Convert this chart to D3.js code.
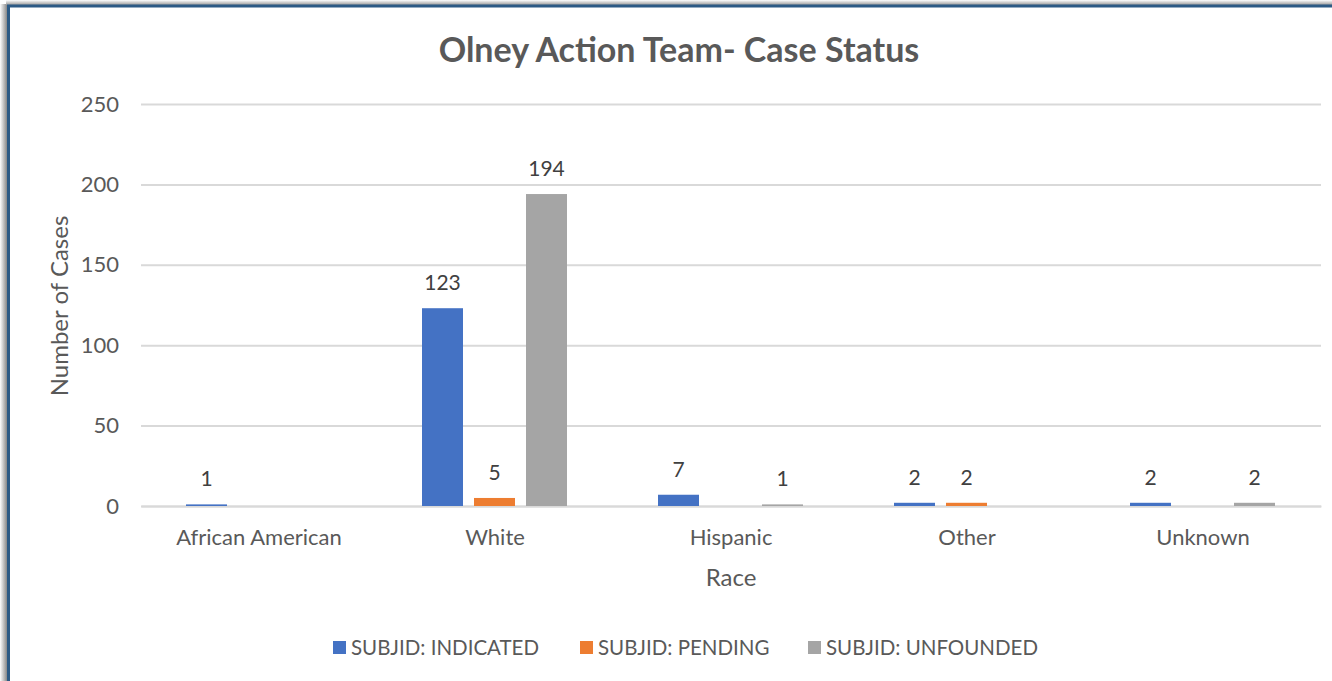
<!DOCTYPE html>
<html>
<head>
<meta charset="utf-8">
<script src="https://cdn.jsdelivr.net/npm/d3@7"></script>
<style>
  body { margin: 0; background: #fff; }
  svg { display: block; }
</style>
</head>
<body>
<svg></svg>
<script>
const categories = ["African American", "White", "Hispanic", "Other", "Unknown"];
const seriesNames = ["SUBJID: INDICATED", "SUBJID: PENDING", "SUBJID: UNFOUNDED"];
const indicated = [1, 123, 7, 2, 2];
const pending = [null, 5, null, 2, null];
const unfounded = [null, 194, 1, null, 2];
const yTicks = [0, 50, 100, 150, 200, 250];
const colors = ["#4472c4", "#ed7d31", "#a5a5a5"];

const width = 1332;
const height = 681;
const font = "Lato, 'Open Sans', sans-serif";

const svg = d3.select('svg')
    .attr("width", width)
    .attr("height", height);

// frame with shadow
const defs = svg.append("defs");
const shL = defs.append("linearGradient").attr("id", "shL").attr("x1", "0").attr("x2", "1");
shL.append("stop").attr("offset", "0").attr("stop-color", "#fff");
shL.append("stop").attr("offset", "1").attr("stop-color", "#777");
const shT = defs.append("linearGradient").attr("id", "shT").attr("x1", "0").attr("x2", "0").attr("y1", "0").attr("y2", "1");
shT.append("stop").attr("offset", "0").attr("stop-color", "#fff");
shT.append("stop").attr("offset", "1").attr("stop-color", "#999");

svg.append("rect").attr("x", 0).attr("y", 4).attr("width", 8).attr("height", height)
   .attr("fill", "url(#shL)");
svg.append("rect").attr("x", 6).attr("y", 0).attr("width", width).attr("height", 5)
   .attr("fill", "url(#shT)");
svg.append("rect").attr("x", 8.5).attr("y", 6).attr("width", width + 20).attr("height", height + 20)
   .attr("fill", "#fff").attr("stroke", "#2c5a85").attr("stroke-width", 3);

const plotLeft = 141, plotRight = 1321, plotTop = 104, plotBottom = 506;

const xScale = d3.scaleBand()
    .domain(categories)
    .range([plotLeft, plotRight]);

const xInner = d3.scaleBand()
    .domain(d3.range(seriesNames.length))
    .range([45, 190])
    .paddingInner(0.2115)
    .paddingOuter(0);

const yScale = d3.scaleLinear()
    .domain([0, 250])
    .range([plotBottom, plotTop]);

// gridlines + y labels
const yAxis = d3.axisLeft(yScale)
    .tickValues(yTicks)
    .tickSize(-(plotRight - plotLeft))
    .tickPadding(22);

const gy = svg.append('g')
    .attr("transform", "translate(" + plotLeft + ",0)")
    .call(yAxis);
gy.select(".domain").remove();
gy.selectAll(".tick line").attr("stroke", "#d9d9d9").attr("stroke-width", 2);
gy.selectAll(".tick text")
  .attr("fill", "#595959")
  .style("font-family", font)
  .style("font-size", "22px");

// x axis labels
const xAxis = d3.axisBottom(xScale).tickSize(0).tickPadding(23);
const gx = svg.append('g')
    .attr("transform", "translate(0," + plotBottom + ")")
    .call(xAxis);
gx.select(".domain").attr("stroke", "#d9d9d9").attr("stroke-width", 2);
gx.selectAll(".tick text")
  .attr("fill", "#595959")
  .style("font-family", font)
  .style("font-size", "22px");

// bars
const series = [indicated, pending, unfounded];
series.forEach((vals, si) => {
    const data = categories.map((c, i) => ({ cat: c, v: vals[i] })).filter(d => d.v !== null);
    svg.append('g').selectAll("rect")
       .data(data)
       .enter()
       .append("rect")
       .attr("x", d => xScale(d.cat) + xInner(si))
       .attr("width", xInner.bandwidth())
       .attr("y", d => yScale(d.v))
       .attr("height", d => yScale(0) - yScale(d.v))
       .attr("fill", colors[si]);

    svg.append('g').selectAll("text")
       .data(data)
       .enter()
       .append("text")
       .attr("x", d => xScale(d.cat) + xInner(si) + xInner.bandwidth() / 2)
       .attr("y", d => yScale(d.v) - 18)
       .attr("text-anchor", "middle")
       .attr("fill", "#404040")
       .style("font-family", font)
       .style("font-size", "21px")
       .text(d => d.v);
});

// title
svg.append("text")
   .attr("x", 679).attr("y", 62)
   .attr("text-anchor", "middle")
   .attr("fill", "#595959")
   .style("font-family", font)
   .style("font-weight", "bold")
   .style("font-size", "34px")
   .text("Olney Action Team- Case Status");

// axis titles
svg.append("text")
   .attr("x", 731).attr("y", 586)
   .attr("text-anchor", "middle")
   .attr("fill", "#595959")
   .style("font-family", font)
   .style("font-size", "24px")
   .text("Race");

svg.append("text")
   .attr("transform", "translate(68,306) rotate(-90)")
   .attr("text-anchor", "middle")
   .attr("fill", "#595959")
   .style("font-family", font)
   .style("font-size", "24px")
   .text("Number of Cases");

// legend
const legendX = [333, 580, 808];
const legend = svg.append("g");
seriesNames.forEach((name, i) => {
    legend.append("rect")
       .attr("x", legendX[i]).attr("y", 641)
       .attr("width", 13).attr("height", 13)
       .attr("fill", colors[i]);
    legend.append("text")
       .attr("x", legendX[i] + 18).attr("y", 655)
       .attr("fill", "#595959")
       .style("font-family", font)
       .style("font-size", "20.5px")
       .text(name);
});
</script>
</body>
</html>
